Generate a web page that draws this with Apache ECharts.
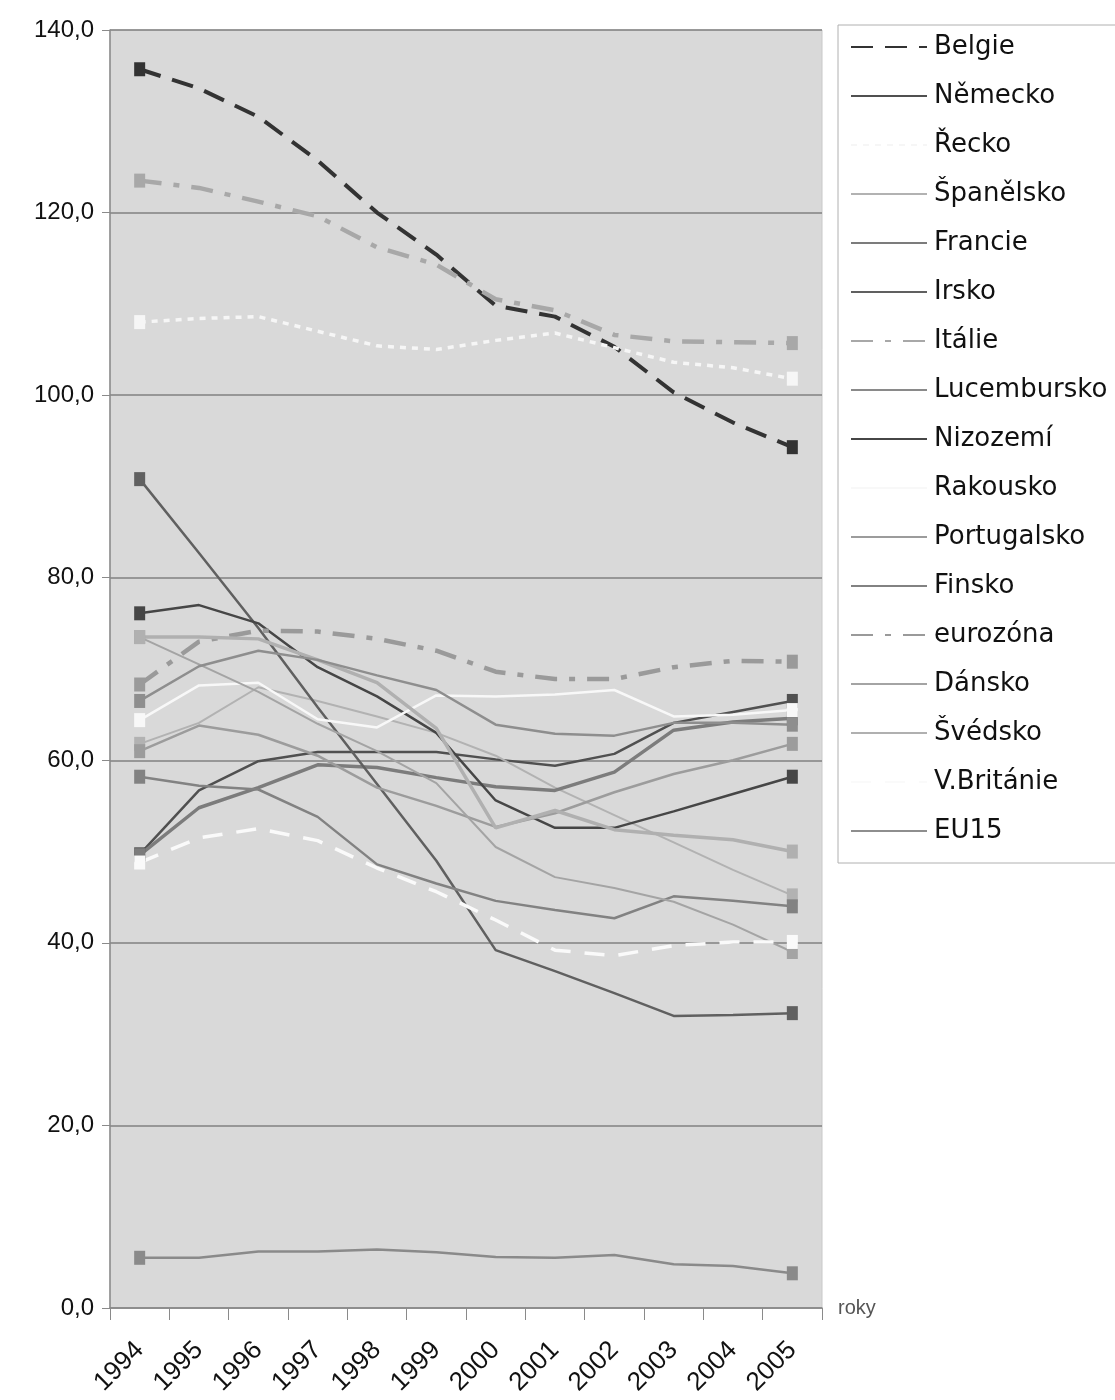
<!DOCTYPE html>
<html>
<head>
<meta charset="utf-8">
<script src="https://cdn.jsdelivr.net/npm/echarts@6/dist/echarts.min.js"></script>
<style>
  html, body { margin: 0; padding: 0; background: #ffffff; }
  #chart { width: 1115px; height: 1400px; }
</style>
</head>
<body>
<div id="chart"></div>
<script>
// Roky (osa x)
const years = ['1994','1995','1996','1997','1998','1999','2000','2001','2002','2003','2004','2005'];

// Zadlužení v % HDP
const belgie      = [135.7, 133.6, 130.5, 125.7, 120.0, 115.4, 109.8, 108.6, 105.3, 100.3, 97.0, 94.3];
const nemecko     = [49.7, 56.7, 59.9, 60.9, 60.9, 60.9, 60.1, 59.4, 60.7, 64.1, 65.3, 66.5];
const recko       = [108.0, 108.4, 108.6, 107.0, 105.4, 105.0, 106.0, 106.8, 105.2, 103.6, 103.0, 101.8];
const spanelsko   = [61.8, 64.1, 68.0, 66.5, 64.8, 63.0, 60.5, 57.0, 54.0, 51.0, 48.0, 45.2];
const francie     = [49.6, 54.8, 57.0, 59.5, 59.2, 58.1, 57.1, 56.7, 58.7, 63.3, 64.2, 64.6];
const irsko       = [90.8, 82.7, 74.5, 65.8, 57.4, 49.0, 39.2, 36.9, 34.5, 32.0, 32.1, 32.3];
const italie      = [123.5, 122.7, 121.2, 119.6, 116.2, 114.3, 110.5, 109.3, 106.6, 105.9, 105.8, 105.7];
const lucembursko = [5.5, 5.5, 6.2, 6.2, 6.4, 6.1, 5.6, 5.5, 5.8, 4.8, 4.6, 3.8];
const nizozemi    = [76.1, 77.0, 75.0, 70.2, 67.0, 63.0, 55.6, 52.6, 52.6, 54.4, 56.3, 58.2];
const rakousko    = [64.4, 68.2, 68.5, 64.5, 63.6, 67.1, 67.0, 67.2, 67.7, 64.8, 65.0, 65.5];
const portugalsko = [61.0, 63.8, 62.8, 60.5, 57.0, 55.0, 52.7, 54.2, 56.5, 58.5, 60.0, 61.8];
const finsko      = [58.2, 57.2, 56.8, 53.8, 48.6, 46.5, 44.6, 43.6, 42.7, 45.1, 44.6, 44.0];
const eurozona    = [68.3, 73.0, 74.2, 74.1, 73.3, 72.0, 69.7, 68.9, 68.9, 70.2, 70.9, 70.8];
const dansko      = [73.5, 70.5, 67.5, 64.0, 61.0, 57.5, 50.5, 47.2, 46.0, 44.5, 42.0, 39.0];
const svedsko     = [73.5, 73.5, 73.3, 71.0, 68.5, 63.5, 52.6, 54.5, 52.4, 51.8, 51.3, 50.0];
const britanie    = [48.8, 51.5, 52.5, 51.2, 48.2, 45.6, 42.5, 39.2, 38.6, 39.7, 40.1, 40.1];
const eu15        = [66.5, 70.3, 72.0, 71.0, 69.3, 67.7, 63.9, 62.9, 62.7, 64.1, 64.1, 63.9];

// Čtvercové značky jen na začátku a konci řady
function withEndMarks(arr) {
  return arr.map((v, i) => (i === 0 || i === arr.length - 1)
    ? { value: v, symbol: 'rect', symbolSize: [11, 14] }
    : { value: v, symbol: 'none' });
}

function line(name, data, color, width, type) {
  return {
    name: name,
    type: 'line',
    data: withEndMarks(data),
    symbol: 'none',
    showSymbol: true,
    color: color,
    lineStyle: { color: color, width: width, type: type || 'solid' },
    itemStyle: { color: color },
    emphasis: { disabled: true },
    z: 2
  };
}

const dashDot = [22, 12, 6, 12];

const series = [
  line('Belgie',      belgie,      '#333333', 4, [22, 12]),
  line('Německo',     nemecko,     '#505050', 2.5),
  line('Řecko',       recko,       '#f6f6f6', 3.5, [6, 6]),
  line('Španělsko',   spanelsko,   '#b2b2b2', 2),
  line('Francie',     francie,     '#7c7c7c', 3.5),
  line('Irsko',       irsko,       '#606060', 2.5),
  line('Itálie',      italie,      '#a8a8a8', 4.5, dashDot),
  line('Lucembursko', lucembursko, '#8a8a8a', 2.5),
  line('Nizozemí',    nizozemi,    '#464646', 2.5),
  line('Rakousko',    rakousko,    '#f8f8f8', 2.5),
  line('Portugalsko', portugalsko, '#9c9c9c', 2.5),
  line('Finsko',      finsko,      '#828282', 2.5),
  line('eurozóna',    eurozona,    '#9a9a9a', 4.5, dashDot),
  line('Dánsko',      dansko,      '#a4a4a4', 2),
  line('Švédsko',     svedsko,     '#b0b0b0', 3.5),
  line('V.Británie',  britanie,    '#fafafa', 3.5, [20, 14]),
  line('EU15',        eu15,        '#8e8e8e', 2.5)
];

const chart = echarts.init(document.getElementById('chart'), null, { renderer: 'canvas' });
chart.setOption({
  animation: false,
  backgroundColor: '#ffffff',
  textStyle: { fontFamily: 'Liberation Sans, Arial, sans-serif' },
  grid: {
    left: 110, right: 293, top: 30, bottom: 92,
    show: true,
    backgroundColor: '#d9d9d9',
    borderColor: '#c8c8c8',
    borderWidth: 1
  },
  legend: {
    orient: 'vertical',
    left: 838,
    top: 25,
    itemWidth: 76,
    itemHeight: 16,
    itemGap: 23,
    padding: [9, 30, 19, 12],
    borderColor: '#b0b0b0',
    borderWidth: 1,
    backgroundColor: '#ffffff',
    selectedMode: false,
    itemStyle: { opacity: 0 },
    textStyle: { fontSize: 26, color: '#111111', fontFamily: 'DejaVu Sans, sans-serif', padding: [0, 0, 0, 2] },
    data: series.map(s => s.name)
  },
  xAxis: {
    type: 'category',
    data: years,
    boundaryGap: true,
    name: 'roky',
    nameLocation: 'end',
    nameGap: 16,
    nameTextStyle: { fontSize: 20, color: '#555555', verticalAlign: 'middle' },
    axisLine: { show: true, lineStyle: { color: '#8a8a8a', width: 1.5 } },
    axisTick: { show: true, alignWithLabel: false, length: 12, lineStyle: { color: '#8a8a8a' } },
    axisLabel: { rotate: 45, fontSize: 26, color: '#111111', margin: 38 },
    splitLine: { show: false }
  },
  yAxis: {
    type: 'value',
    min: 0,
    max: 140,
    interval: 20,
    axisLine: { show: true, lineStyle: { color: '#8a8a8a', width: 1.5 } },
    axisTick: { show: true, length: 8, lineStyle: { color: '#8a8a8a' } },
    axisLabel: {
      fontSize: 24, color: '#111111', margin: 16,
      formatter: v => v.toFixed(1).replace('.', ',')
    },
    splitLine: { show: true, lineStyle: { color: '#808080', width: 1.5 } }
  },
  series: series
});
</script>
</body>
</html>
